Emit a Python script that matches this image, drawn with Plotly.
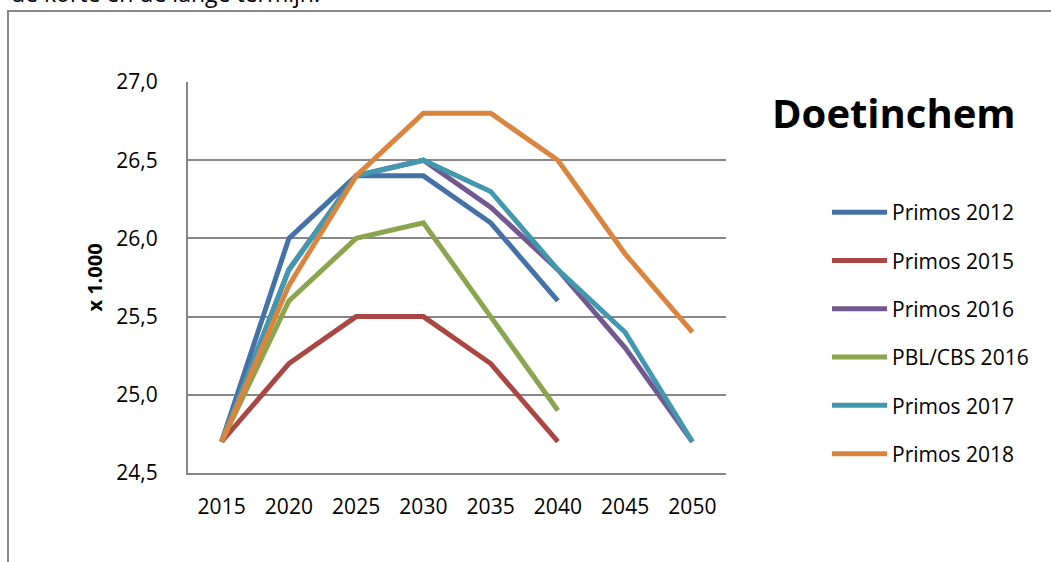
import plotly.graph_objects as go

years = ["2015", "2020", "2025", "2030", "2035", "2040", "2045", "2050"]

primos_2012 = [24.7, 26.0, 26.4, 26.4, 26.1, 25.6]
primos_2015 = [24.7, 25.2, 25.5, 25.5, 25.2, 24.7]
primos_2016 = [24.7, 25.8, 26.4, 26.5, 26.2, 25.8, 25.3, 24.7]
pbl_cbs_2016 = [24.7, 25.6, 26.0, 26.1, 25.5, 24.9]
primos_2017 = [24.7, 25.8, 26.4, 26.5, 26.3, 25.8, 25.4, 24.7]
primos_2018 = [24.7, 25.7, 26.4, 26.8, 26.8, 26.5, 25.9, 25.4]

series_names = ["Primos 2012", "Primos 2015", "Primos 2016", "PBL/CBS 2016", "Primos 2017", "Primos 2018"]
series_values = [primos_2012, primos_2015, primos_2016, pbl_cbs_2016, primos_2017, primos_2018]
series_colors = ["#4471A8", "#AA4643", "#71588F", "#89A54E", "#4198AF", "#DB843D"]

y_ticks = [24.5, 25.0, 25.5, 26.0, 26.5, 27.0]

FONT = "Open Sans"

fig = go.Figure()
for i, (name, vals, col) in enumerate(zip(series_names, series_values, series_colors)):
    fig.add_trace(go.Scatter(
        x=years[:len(vals)], y=vals, name=name, mode="lines",
        line=dict(color=col, width=5),
        legendgroup=f"g{i}",
    ))

L, R, T, B = 188, 726, 82, 473
W, H = 1051, 562

def px(X):
    return (X - L) / (R - L)

def py(Y):
    return (B - Y) / (B - T)

fig.update_layout(
    width=W, height=H,
    margin=dict(l=L, r=W - R, t=T, b=H - B, autoexpand=False),
    paper_bgcolor="white", plot_bgcolor="white",
    separators=",.",
    font=dict(family=FONT, size=21, color="#000000"),
    showlegend=True,
    legend=dict(
        x=px(827), xanchor="left", y=py(192), yanchor="top",
        font=dict(family=FONT, size=21, color="#000000"),
        tracegroupgap=18, itemwidth=55, bgcolor="rgba(0,0,0,0)",
    ),
    xaxis=dict(
        type="category", categoryorder="array", categoryarray=years,
        range=[-0.5, 7.5], showgrid=False, showline=True,
        linecolor="#878787", linewidth=2, ticks="", zeroline=False,
        tickfont=dict(family=FONT, size=21, color="#000000"),
        ticklabelstandoff=14,
    ),
    yaxis=dict(
        range=[24.5, 27.0], tickvals=y_ticks, tickformat=".1f",
        showgrid=True, gridcolor="#878787", gridwidth=2,
        showline=True, linecolor="#878787", linewidth=2, zeroline=False,
        ticks="", tickfont=dict(family=FONT, size=21, color="#000000"),
        ticklabelstandoff=24,
        title=dict(text="<b>x 1.000</b>", font=dict(family=FONT, size=20, color="#000000"), standoff=8),
    ),
)

# outer chart frame (partially visible)
fig.add_shape(type="path", xref="paper", yref="paper",
              path=f"M {px(8)} {py(575)} L {px(8)} {py(11)} L {px(1065)} {py(11)}",
              line=dict(color="#888888", width=2), layer="above")

fig.add_annotation(text="<b>Doetinchem</b>", xref="paper", yref="paper",
                   x=px(894), y=py(112), xanchor="center", yanchor="middle",
                   showarrow=False, font=dict(family=FONT, size=40, color="#000000"))

fig.add_annotation(text="de korte en de lange termijn.", xref="paper", yref="paper",
                   x=px(9), y=py(11), xanchor="left", yanchor="bottom",
                   showarrow=False, font=dict(family=FONT, size=23, color="#000000"))

fig.write_html("out.html")
